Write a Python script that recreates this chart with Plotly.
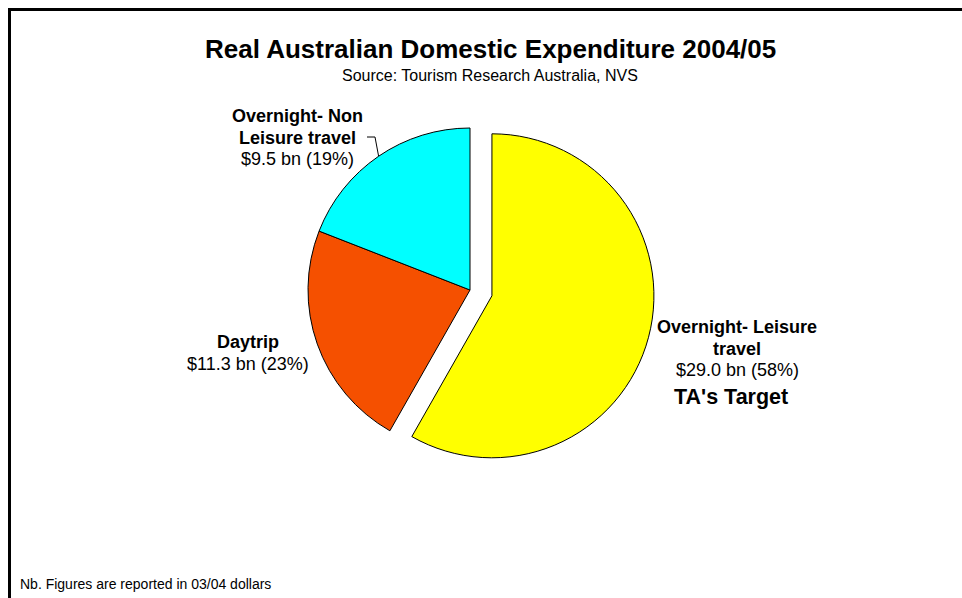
import math
import plotly.graph_objects as go

W, H = 962, 598

# Expenditure by travel type, $ billion (2004/05)
categories = ["Overnight- Leisure travel", "Daytrip", "Overnight- Non Leisure travel"]
values = [29.0, 11.3, 9.5]
label_lines = [["Overnight- Leisure", "travel"], ["Daytrip"], ["Overnight- Non", "Leisure travel"]]
colors = ["#FFFF00", "#F55000", "#00FFFF"]
pulls = [0.14, 0, 0]

total = sum(values)
shares = [round(100 * v / total) for v in values]

FONT = "Arial, Liberation Sans, sans-serif"


def px(x):
    return x / W


def py(y):
    return 1 - y / H


# pie placement (pixels): centre and radius of the un-pulled slices
CX, CY, R = 470, 290, 162
half = R * (1 + max(pulls))

fig = go.Figure(go.Pie(
    labels=categories,
    values=values,
    sort=False,
    direction="clockwise",
    rotation=0,
    pull=pulls,
    marker=dict(colors=colors, line=dict(color="#000000", width=1)),
    textinfo="none",
    hoverinfo="label+value+percent",
    showlegend=False,
    domain=dict(x=[px(CX - half), px(CX + half)], y=[py(CY + half), py(CY - half)]),
))

annotations = []


def add_text(text, x, y, size, bold=False, xanchor="center"):
    annotations.append(dict(
        text=f"<b>{text}</b>" if bold else text,
        x=px(x), y=py(y), xref="paper", yref="paper",
        xanchor=xanchor, yanchor="middle", showarrow=False,
        font=dict(family=FONT, size=size, color="#000000"),
    ))


# title block
add_text("Real Australian Domestic Expenditure 2004/05", 490, 49, 26, bold=True)
add_text("Source: Tourism Research Australia, NVS", 490, 75, 16)
add_text("Nb. Figures are reported in 03/04 dollars", 18, 584, 14, xanchor="left")

# slice labels: name lines in bold, then value and share
value_text = [f"${v:.1f} bn ({s}%)" for v, s in zip(values, shares)]
label_pos = [(737, 327), (248, 342), (297, 116)]
LINE = 21.5
for lines, vt, (lx, ly) in zip(label_lines, value_text, label_pos):
    for i, ln in enumerate(lines):
        add_text(ln, lx, ly + i * LINE, 18, bold=True)
    add_text(vt, lx, ly + len(lines) * LINE, 18)

add_text("TA's Target", 731, 397, 21.5, bold=True)

shapes = [
    # frame
    dict(type="line", xref="paper", yref="paper", x0=px(8), x1=px(W), y0=py(9.5), y1=py(9.5),
         line=dict(color="#000000", width=3)),
    dict(type="line", xref="paper", yref="paper", x0=px(9.5), x1=px(9.5), y0=py(8), y1=py(H),
         line=dict(color="#000000", width=3)),
]

# leader line from the non-leisure label to the middle of its slice edge
start = sum(values[:2]) / total * 360
mid = math.radians(start + values[2] / total * 360 / 2)
ex = CX + R * math.sin(mid)
ey = CY - R * math.cos(mid)
path = f"M {px(367)},{py(137)} L {px(375)},{py(137)} L {px(ex)},{py(ey)}"
shapes.append(dict(type="path", xref="paper", yref="paper", path=path,
                   line=dict(color="#000000", width=1)))

fig.update_layout(
    width=W, height=H, autosize=False,
    margin=dict(l=0, r=0, t=0, b=0),
    paper_bgcolor="#FFFFFF", plot_bgcolor="#FFFFFF",
    annotations=annotations, shapes=shapes,
)

fig.write_html("out.html")
